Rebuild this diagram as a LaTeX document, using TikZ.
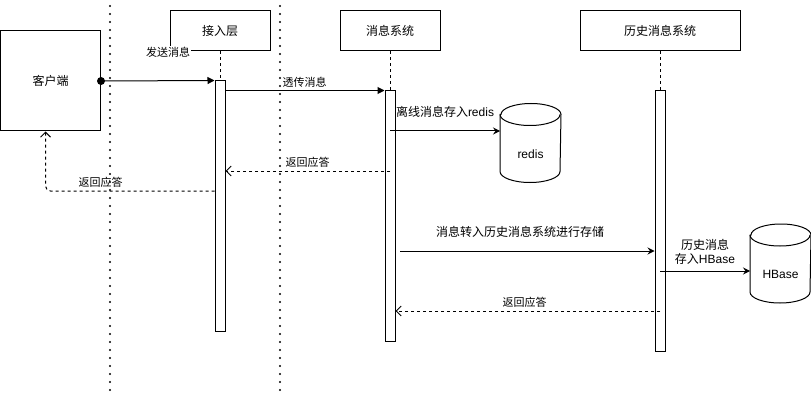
\documentclass[tikz,border=0pt]{standalone}
\usepackage{fontspec}
\setmainfont{Liberation Sans}
\newfontfamily\cjk{Noto Sans CJK SC}
\usetikzlibrary{arrows.meta}
\begin{document}
\begin{tikzpicture}[x=1pt,y=-1pt, line width=1pt,
 box/.style={draw, line width=1pt, minimum height=40pt, inner sep=0pt, font=\fontsize{12pt}{14pt}\selectfont\cjk},
 bar/.style={draw, fill=white, minimum width=10pt, inner sep=0pt},
 lbl/.style={font=\fontsize{11pt}{13pt}\selectfont\cjk, inner sep=0pt},
 lblb/.style={font=\fontsize{12pt}{14pt}\selectfont, inner sep=0pt, align=center},
 sync/.style={-{Triangle[length=7pt,width=7pt]}},
 call/.style={-{Stealth[length=7pt,width=7pt,inset=2.5pt]}},
 ret/.style={dash pattern=on 3pt off 3pt, -{Straight Barb[length=5pt,width=10pt]}},
 life/.style={dash pattern=on 3pt off 3pt},
 sepline/.style={line width=2.2pt, line cap=round, dash pattern=on 0pt off 8pt}]
\useasboundingbox (0,0) rectangle (811,393);
% separators
\coordinate (s1t) at (110,6); \coordinate (s1b) at (110,393);
\coordinate (s2t) at (280,6); \coordinate (s2b) at (280,393);
\draw[sepline] (s1t) -- (s1b);
\draw[sepline] (s2t) -- (s2b);
% participants
\node[box, minimum width=100pt, minimum height=100pt] (client) at (50.5,81) {客户端};
\node[box, minimum width=100pt] (acc) at (220,31) {接入层};
\node[box, minimum width=100pt] (msg) at (390,31) {消息系统};
\node[box, minimum width=160pt] (his) at (660,31) {历史消息系统};
% activation bars
\node[bar, minimum height=250pt] (b1) at (220,206) {};
\node[bar, minimum height=250pt] (b2) at (390,216) {};
\node[bar, minimum height=260pt] (b3) at (660,221) {};
% lifelines
\draw[life] (acc.south) -- (b1.north);
\draw[life] (msg.south) -- (b2.north);
\draw[life] (his.south) -- (b3.north);
% cylinders
\node[minimum width=60pt, minimum height=78pt, inner sep=0pt] (redis) at (530.5,143) {};
\node[minimum width=60pt, minimum height=78pt, inner sep=0pt] (hbase) at (780.5,263.5) {};
\foreach \c in {redis,hbase}{
  \draw ([yshift=-11pt]\c.north west) -- ([yshift=11pt]\c.south west)
    arc[start angle=180,end angle=360,x radius=30pt,y radius=11pt]
    -- ([yshift=-11pt]\c.north east)
    arc[start angle=0,end angle=180,x radius=30pt,y radius=11pt] -- cycle;
  \draw ([yshift=-11pt]\c.north west) arc[start angle=180,end angle=360,x radius=30pt,y radius=11pt];
}
\node[lblb] (redist) at (530.5,154.5) {redis};
\node[lblb] (hbaset) at (780.5,274.5) {HBase};
% messages
\node[circle, fill, minimum size=8pt, inner sep=0pt] (dot) at (client.east) {};
\draw[sync] (dot.center) -- (b1.north west);
\draw[sync] (b1.east |- b2.north) -- (b2.north west);
\draw[call] (b2.center |- 0,131) -- (redis.west |- 0,131);
\draw[ret] (b2.center |- 0,171) -- (b1.east |- 0,171);
\draw[ret, rounded corners=5pt] (b1.west |- 0,191) -| ([xshift=-5pt]client.south);
\coordinate (m4s) at (400,251);
\draw[call] (m4s) -- (b3.west |- m4s);
\draw[call] (b3.center |- 0,271) -- (hbase.west |- 0,271);
\draw[ret] (b3.center |- 0,311) -- (b2.east |- 0,311);
% labels
\node[lbl, fill=white, inner sep=1pt] (l1) at (168,52) {发送消息};
\node[lbl] (l2) at (304.5,82) {透传消息};
\node[lblb] (l3) at (445,112) {{\cjk 离线消息存入}redis};
\node[lbl] (l4) at (307.5,162) {返回应答};
\node[lbl] (l5) at (100.5,182) {返回应答};
\node[lblb] (l6) at (520,232) {\cjk 消息转入历史消息系统进行存储};
\node[lblb] (l7) at (705,251.5) {{\cjk 历史消息}\\{\cjk 存入}HBase};
\node[lbl] (l8) at (524.5,302) {返回应答};
\end{tikzpicture}
\end{document}
